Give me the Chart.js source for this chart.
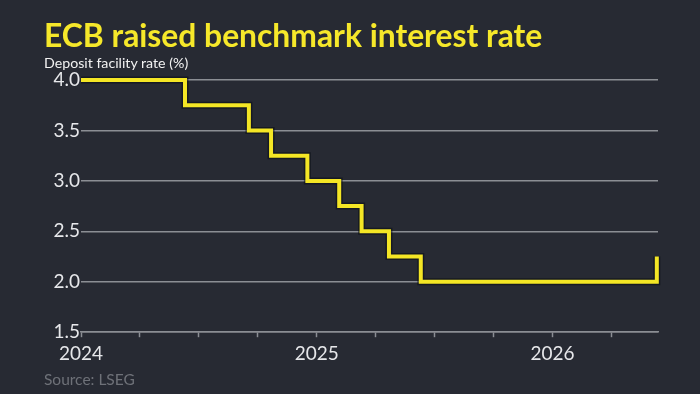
<!DOCTYPE html>
<html>
<head>
<meta charset="utf-8">
<script src="https://cdn.jsdelivr.net/npm/chart.js@4"></script>
<style>
  html, body { margin: 0; padding: 0; background: #272a33; }
  #wrap { position: relative; width: 700px; height: 394px; overflow: hidden; }
  #chart { position: absolute; left: 0; top: 0; }
  .txt { position: absolute; left: 44px; white-space: nowrap; font-family: Lato, sans-serif; }
  #title { top: 19px; font-size: 31.8px; line-height: 32px; font-weight: 700; color: #f6e82a; }
  #subtitle { top: 56px; font-size: 14.2px; line-height: 14px; color: #f2f2f2; }
  #source { top: 372px; font-size: 15.5px; line-height: 15px; color: #6e7178; }
</style>
</head>
<body>
<div id="wrap">
  <canvas id="chart" width="700" height="394"></canvas>
  <div class="txt" id="title">ECB raised benchmark interest rate</div>
  <div class="txt" id="subtitle">Deposit facility rate (%)</div>
  <div class="txt" id="source">Source: LSEG</div>
</div>
<script>
// rate decision dates as decimal years, and deposit rate after each
var dates = [2024.0, 2024.441, 2024.712, 2024.806, 2024.960, 2025.095, 2025.190, 2025.306, 2025.441, 2026.442];
var rates = [4.0, 3.75, 3.5, 3.25, 3.0, 2.75, 2.5, 2.25, 2.0, 2.25];
var xTicks = [2024, 2024.25, 2024.5, 2024.75, 2025, 2025.25, 2025.5, 2025.75, 2026, 2026.25];
var yearLabels = [2024, 2025, 2026];
var xMin = 2024, xMax = 2026.447;
var yMin = 1.5, yMax = 4.0, yStep = 0.5;

var points = dates.map(function (d, i) { return { x: d, y: rates[i] }; });

var font = { family: "Lato, sans-serif", size: 19 };

new Chart(document.getElementById("chart"), {
  type: "line",
  data: {
    datasets: [
      {
        // yellow step line
        data: points,
        stepped: true,
        borderColor: "#f4e625",
        borderWidth: 4,
        pointRadius: 0,
        fill: false,
        clip: 8,
        borderJoinStyle: "miter",
        order: 0
      },
      {
        // dark outline under the line
        data: points,
        stepped: true,
        borderColor: "rgba(10,12,20,0.55)",
        borderWidth: 7,
        pointRadius: 0,
        fill: false,
        clip: 10,
        borderJoinStyle: "miter",
        order: 1
      }
    ]
  },
  options: {
    responsive: false,
    animation: false,
    layout: { padding: { left: 44, right: 42, top: 80, bottom: 24 } },
    plugins: { legend: { display: false }, tooltip: { enabled: false } },
    scales: {
      x: {
        type: "linear",
        min: xMin,
        max: xMax,
        afterBuildTicks: function (scale) {
          scale.ticks = xTicks.map(function (v) { return { value: v }; });
        },
        ticks: {
          autoSkip: false,
          maxRotation: 0,
          padding: 5,
          color: "#e6e7ea",
          font: font,
          callback: function (v) {
            return yearLabels.indexOf(v) >= 0 ? String(v) : "";
          }
        },
        grid: { drawOnChartArea: false, drawTicks: true, tickLength: 5, tickWidth: 1.5, color: "#8b8e94" },
        border: { display: true, color: "#8b8e94", width: 1.5 }
      },
      y: {
        min: yMin,
        max: yMax,
        afterFit: function (scale) { scale.width = 37; },
        ticks: {
          stepSize: yStep,
          padding: 1,
          color: "#e6e7ea",
          font: font,
          callback: function (v) { return v.toFixed(1); }
        },
        grid: { color: "#8b8e94", lineWidth: 1.5, drawTicks: false },
        border: { display: false }
      }
    }
  }
});
</script>
</body>
</html>
